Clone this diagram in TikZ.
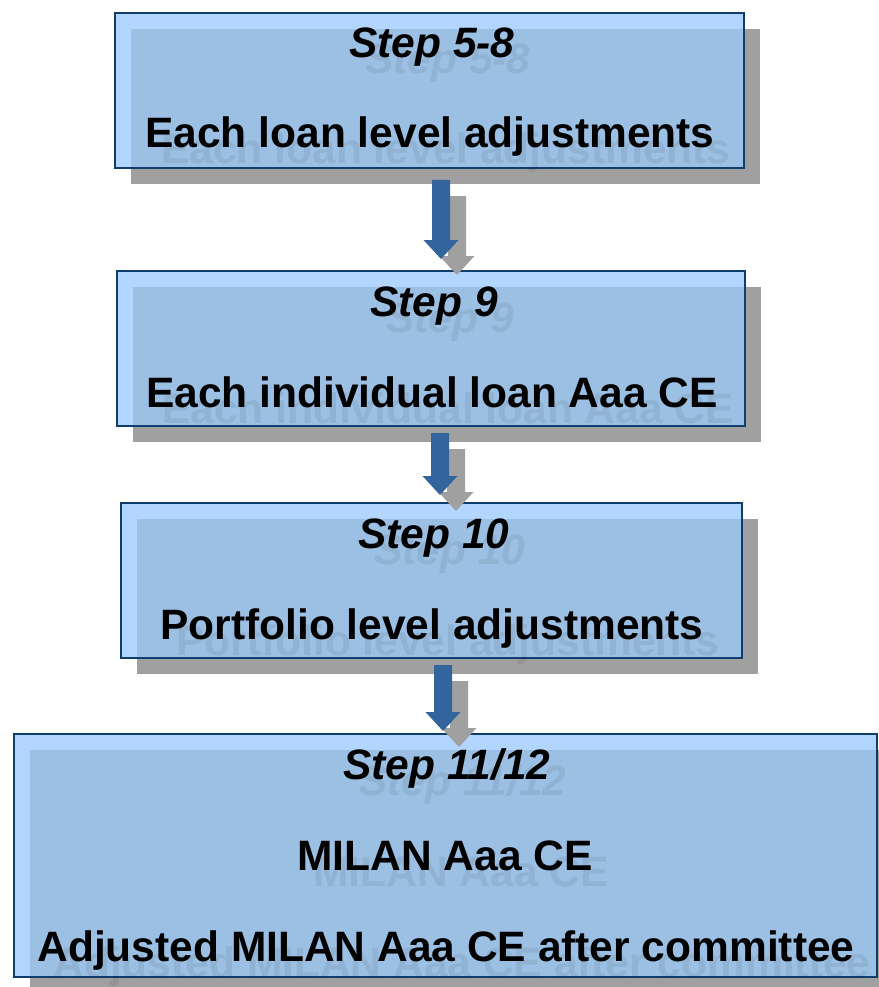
\documentclass[tikz,border=0pt]{standalone}
\usepackage{fontspec}
\setmainfont{Liberation Sans}
\usetikzlibrary{calc}
\definecolor{boxlight}{RGB}{178,214,255}
\definecolor{boxinner}{RGB}{155,192,228}
\definecolor{boxborder}{RGB}{16,60,110}
\definecolor{shadowgray}{RGB}{160,160,160}
\definecolor{arrowblue}{RGB}{52,100,158}
\newcommand{\blockarr}[3]{%
  \fill[#1] ($(#2)+(-9,0)$) -- ($(#2)+(9,0)$) -- ($(#3)+(9,-19)$) -- ($(#3)+(17.5,-19)$)
    -- (#3) -- ($(#3)+(-17.5,-19)$) -- ($(#3)+(-9,-19)$) -- cycle;}
\newcommand{\stepboxdraw}[1]{%
  \fill[shadowgray] ($(#1.north west)+(16,16)$) rectangle ($(#1.south east)+(16,16)$);
  \fill[boxlight] (#1.north west) rectangle (#1.south east);
  \fill[boxinner] ($(#1.north west)+(16,16)$) rectangle (#1.south east);
  \draw[boxborder, line width=2pt] (#1.north west) rectangle (#1.south east);}
\tikzset{
  boxshape/.style={rectangle, inner sep=0pt, outer sep=0pt, draw=none},
  txt/.style={inner sep=0pt, anchor=base, font=\bfseries\fontsize{42.5}{42.5}\selectfont},
  shtxt/.style={txt, text=black, text opacity=0.07},
}
\begin{document}
\begin{tikzpicture}[x=1pt,y=-1pt]
\useasboundingbox (0,0) rectangle (878,987);
% box geometry
\path node[boxshape, minimum width=629pt, minimum height=155pt] (b1) at (429.5,90.5) {};
\path node[boxshape, minimum width=628pt, minimum height=155pt] (b2) at (431,348.5) {};
\path node[boxshape, minimum width=621pt, minimum height=155pt] (b3) at (431.5,580.5) {};
\path node[boxshape, minimum width=863pt, minimum height=243pt] (b4) at (445.5,855.5) {};
\stepboxdraw{b1}
\stepboxdraw{b2}
\stepboxdraw{b3}
\stepboxdraw{b4}
% texts: shadows first
\node[shtxt] (s1a) at (448,74) {\itshape Step 5-8};
\node[shtxt] (s1b) at (446,164) {Each loan level adjustments};
\node[shtxt] (s2a) at (450,332) {\itshape Step 9};
\node[shtxt] (s2b) at (448,423) {Each individual loan Aaa CE};
\node[shtxt] (s3a) at (450,564) {\itshape Step 10};
\node[shtxt] (s3b) at (448,655) {Portfolio level adjustments};
\node[shtxt] (s4a) at (463,795) {\itshape Step 11/12};
\node[shtxt] (s4b) at (461,886) {MILAN Aaa CE};
\node[shtxt] (s4c) at (462,977) {Adjusted MILAN Aaa CE after committee};
\node[txt] (t1a) at (432,58) {\itshape Step 5-8};
\node[txt] (t1b) at (430,148) {Each loan level adjustments};
\node[txt] (t2a) at (434,316) {\itshape Step 9};
\node[txt] (t2b) at (432,407) {Each individual loan Aaa CE};
\node[txt] (t3a) at (434,548) {\itshape Step 10};
\node[txt] (t3b) at (432,639) {Portfolio level adjustments};
\node[txt] (t4a) at (447,779) {\itshape Step 11/12};
\node[txt] (t4b) at (445,870) {MILAN Aaa CE};
\node[txt] (t4c) at (446,961) {Adjusted MILAN Aaa CE after committee};
% arrows
\coordinate (a1s) at (441,180);  \coordinate (a1t) at (441,259);
\coordinate (a1ss) at (457,196); \coordinate (a1st) at (457,275);
\coordinate (a2s) at (440,433);  \coordinate (a2t) at (440,495);
\coordinate (a2ss) at (456,449); \coordinate (a2st) at (456,511);
\coordinate (a3s) at (443,665);  \coordinate (a3t) at (443,731);
\coordinate (a3ss) at (459,681); \coordinate (a3st) at (459,747);
\blockarr{shadowgray}{a1ss}{a1st}
\blockarr{arrowblue}{a1s}{a1t}
\blockarr{shadowgray}{a2ss}{a2st}
\blockarr{arrowblue}{a2s}{a2t}
\blockarr{shadowgray}{a3ss}{a3st}
\blockarr{arrowblue}{a3s}{a3t}
\end{tikzpicture}
\end{document}
